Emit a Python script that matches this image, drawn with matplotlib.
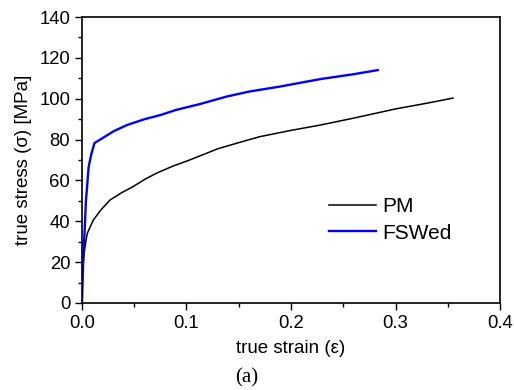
import matplotlib.pyplot as plt
from matplotlib.ticker import MultipleLocator

# PM (parent material) curve
pm_strain = [0.0, 0.0005, 0.0013, 0.003, 0.005, 0.0108, 0.018, 0.0268, 0.038, 0.049,
             0.06, 0.0715, 0.087, 0.103, 0.13, 0.15, 0.17, 0.2, 0.228, 0.26, 0.3, 0.33, 0.355]
pm_stress = [0.0, 14, 21, 28, 34, 40.6, 45.5, 50.4, 54, 57,
             60.5, 63.6, 67, 70, 75.5, 78.5, 81.4, 84.5, 87.1, 90.5, 95, 97.8, 100.3]

# FSWed curve
fsw_strain = [0.0, 0.001, 0.0038, 0.0064, 0.009, 0.012, 0.02, 0.03, 0.043, 0.06,
              0.075, 0.09, 0.113, 0.138, 0.16, 0.19, 0.228, 0.26, 0.283]
fsw_stress = [0.0, 18, 50, 66.7, 73, 78.3, 80.8, 84, 87.1, 90,
              92, 94.5, 97.4, 101, 103.5, 106, 109.6, 112, 114]

fig = plt.figure(figsize=(5.14, 3.90), dpi=100)
ax = fig.add_axes([0.1595, 0.2231, 0.8133, 0.7333])

ax.plot(pm_strain, pm_stress, color='black', lw=1.1, label='PM')
ax.plot(fsw_strain, fsw_stress, color='#0000ff', lw=1.7, label='FSWed')

ax.set_xlim(0, 0.4)
ax.set_ylim(0, 140)
ax.xaxis.set_major_locator(MultipleLocator(0.1))
ax.xaxis.set_minor_locator(MultipleLocator(0.05))
ax.yaxis.set_major_locator(MultipleLocator(20))
ax.yaxis.set_minor_locator(MultipleLocator(10))
ax.tick_params(which='both', direction='out', top=False, right=False,
               labelsize=13.3, width=1)
ax.tick_params(which='major', length=5)
ax.tick_params(which='minor', length=3)
for lab in ax.get_xticklabels() + ax.get_yticklabels():
    lab.set_family('Liberation Sans')
for s in ax.spines.values():
    s.set_linewidth(1.2)

ax.set_xlabel('true strain (ε)', fontsize=13.5, family='Liberation Sans', labelpad=6)
ax.set_ylabel('true stress (σ) [MPa]', fontsize=13.5, family='Liberation Sans', labelpad=5)

leg = ax.legend(loc='upper left', bbox_to_anchor=(0.545, 0.435), frameon=False,
                prop={'family': 'Liberation Sans', 'size': 15},
                handlelength=2.3, handletextpad=0.3, labelspacing=0.35)

fig.text(0.48, 0.006, '(a)', ha='center', va='bottom', fontsize=15, family='Liberation Serif')

fig.savefig('out.png', dpi=100)
